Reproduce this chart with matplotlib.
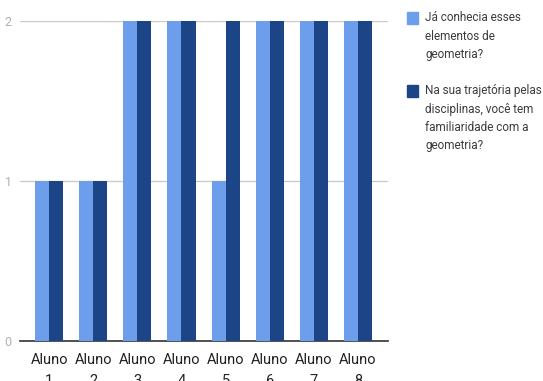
import matplotlib
matplotlib.use('Agg')
import matplotlib.pyplot as plt
from matplotlib.patches import Rectangle
import numpy as np

plt.rcParams['font.family'] = ['Roboto', 'DejaVu Sans']

alunos = ['Aluno\n1', 'Aluno\n2', 'Aluno\n3', 'Aluno\n4',
          'Aluno\n5', 'Aluno\n6', 'Aluno\n7', 'Aluno\n8']
conhecia = [1, 1, 2, 2, 1, 2, 2, 2]
familiaridade = [1, 1, 2, 2, 2, 2, 2, 2]
series_names = ['Já conhecia esses\nelementos de\ngeometria?',
                'Na sua trajetória pelas\ndisciplinas, você tem\nfamiliaridade com a\ngeometria?']

cor_clara = '#6d9eeb'
cor_escura = '#1c4587'

fig = plt.figure(figsize=(5.43, 3.81), dpi=100)
ax = fig.add_axes([20 / 543, 40 / 381, 368 / 543, 320 / 381])

x = np.arange(len(alunos))
w = 0.32
ax.bar(x - w / 2, conhecia, w, color=cor_clara, zorder=3)
ax.bar(x + w / 2, familiaridade, w, color=cor_escura, zorder=3)

ax.set_xlim(-0.66, 7.68)
ax.set_ylim(0, 2)
ax.set_yticks([0, 1, 2])
ax.yaxis.grid(True, color='#cccccc', linewidth=1, zorder=0)
ax.tick_params(axis='y', length=0, pad=6, labelsize=9, labelcolor='#b0b0b0')
ax.set_xticks(x)
ax.set_xticklabels(alunos, fontsize=10.5, color='#222222', linespacing=1.6)
ax.tick_params(axis='x', length=0, pad=9)

for s in ['top', 'right', 'left']:
    ax.spines[s].set_visible(False)
ax.spines['bottom'].set_color('#333333')
ax.spines['bottom'].set_linewidth(1.2)

# legenda ao lado
fig.add_artist(Rectangle((407 / 543, 1 - 24 / 381), 11 / 543, 12 / 381,
                         color=cor_clara, transform=fig.transFigure))
fig.text(425 / 543, 1 - 11 / 381, series_names[0], fontsize=8.5, color='#3c3c3c',
         va='top', ha='left', linespacing=1.55)
fig.add_artist(Rectangle((407 / 543, 1 - 97 / 381), 11 / 543, 12 / 381,
                         color=cor_escura, transform=fig.transFigure))
fig.text(425 / 543, 1 - 84 / 381, series_names[1], fontsize=8.5, color='#3c3c3c',
         va='top', ha='left', linespacing=1.55)

fig.savefig('out.png', dpi=100)
